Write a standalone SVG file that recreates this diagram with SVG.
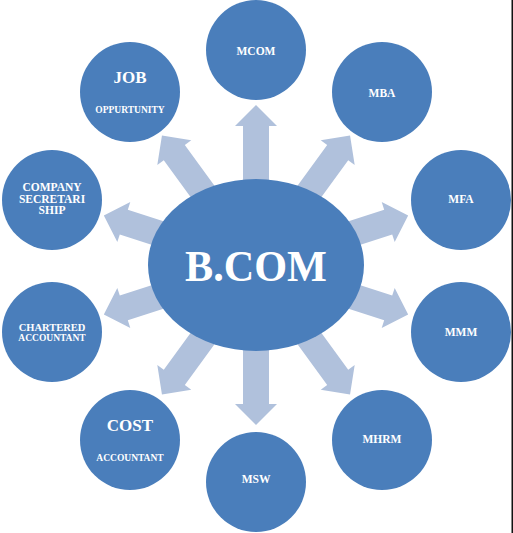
<svg xmlns="http://www.w3.org/2000/svg" width="513" height="533" viewBox="0 0 513 533">
<style>
.node{fill:#4A7EBB;}
.arr{fill:#B0C1DC;}
text{font-family:"Liberation Serif","Times New Roman",serif;font-weight:bold;fill:#FFFFFF;text-anchor:middle;}
.s{font-size:11.5px;}
.xs{font-size:9.5px;}
.m{font-size:10.5px;}
.l{font-size:17px;}
</style>
<defs>
<path id="arrow" d="M60,-13 L139,-13 L139,-21 L160,0 L139,21 L139,13 L60,13 Z"/>
</defs>
<rect x="0" y="0" width="513" height="533" fill="#FFFFFF"/>
<g id="connectors" class="arr">
<use href="#arrow" transform="translate(256,265) rotate(-90)"/>
<use href="#arrow" transform="translate(256,265) rotate(-54)"/>
<use href="#arrow" transform="translate(256,265) rotate(-18)"/>
<use href="#arrow" transform="translate(256,265) rotate(18)"/>
<use href="#arrow" transform="translate(256,265) rotate(54)"/>
<use href="#arrow" transform="translate(256,265) rotate(90)"/>
<use href="#arrow" transform="translate(256,265) rotate(126)"/>
<use href="#arrow" transform="translate(256,265) rotate(162)"/>
<use href="#arrow" transform="translate(256,265) rotate(198)"/>
<use href="#arrow" transform="translate(256,265) rotate(234)"/>
</g>
<g id="bcom">
<ellipse class="node" cx="256" cy="265" rx="108" ry="86"/>
<text x="256" y="281" font-size="45" textLength="142" lengthAdjust="spacingAndGlyphs">B.COM</text>
</g>
<g id="mcom">
<circle class="node" cx="256" cy="50" r="50"/>
<text class="s" x="256" y="55">MCOM</text>
</g>
<g id="mba">
<circle class="node" cx="382" cy="92" r="50"/>
<text class="s" x="382" y="97">MBA</text>
</g>
<g id="mfa">
<circle class="node" cx="461" cy="200" r="50"/>
<text class="s" x="461" y="203">MFA</text>
</g>
<g id="mmm">
<circle class="node" cx="461" cy="332" r="50"/>
<text class="s" x="461" y="336">MMM</text>
</g>
<g id="mhrm">
<circle class="node" cx="382" cy="440" r="50"/>
<text class="s" x="382" y="443">MHRM</text>
</g>
<g id="msw">
<circle class="node" cx="256" cy="482" r="50"/>
<text class="s" x="256" y="483">MSW</text>
</g>
<g id="cost">
<circle class="node" cx="130" cy="440" r="50"/>
<text class="l" x="130" y="431">COST</text>
<text class="xs" x="130" y="461">ACCOUNTANT</text>
</g>
<g id="chartered">
<circle class="node" cx="52" cy="332" r="50"/>
<text class="m" x="52" y="331">CHARTERED</text>
<text class="xs" x="52" y="341">ACCOUNTANT</text>
</g>
<g id="company">
<circle class="node" cx="52" cy="200" r="50"/>
<text class="s" x="52" y="191">COMPANY</text>
<text class="s" x="52" y="203">SECRETARI</text>
<text class="s" x="52" y="214">SHIP</text>
</g>
<g id="job">
<circle class="node" cx="130" cy="92" r="50"/>
<text class="l" x="130" y="83">JOB</text>
<text class="xs" x="130" y="113">OPPURTUNITY</text>
</g>
<rect x="511.5" y="0" width="1.5" height="533" fill="#111111"/>
</svg>
